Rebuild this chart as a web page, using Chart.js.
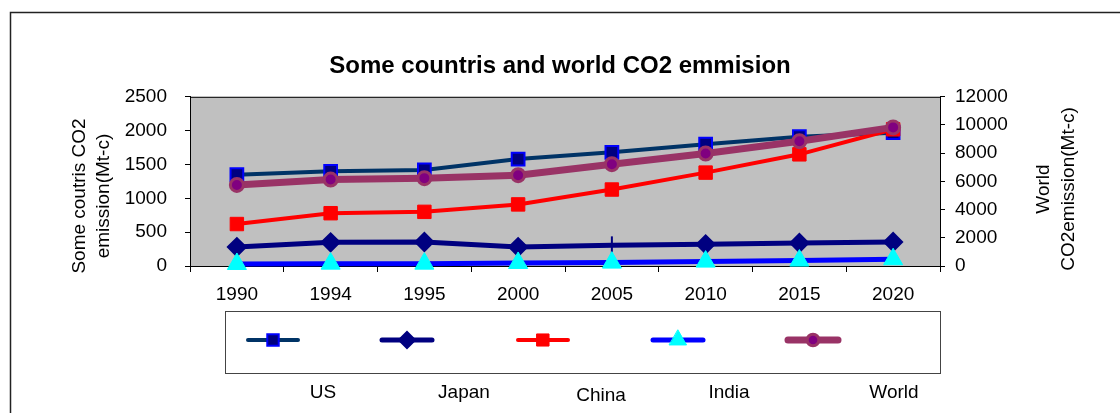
<!DOCTYPE html>
<html>
<head>
<meta charset="utf-8">
<title>Some countris and world CO2 emmision</title>
<script src="https://cdn.jsdelivr.net/npm/chart.js@4.4.0/dist/chart.umd.min.js"></script>
<style>
  html, body { margin: 0; padding: 0; background: #fff; }
  #wrap { width: 1120px; height: 413px; }
</style>
</head>
<body>
<div id="wrap"><canvas id="co2Chart" width="1120" height="413"></canvas></div>
<script>
// --- data (Mt-c) ---
const years = ['1990', '1994', '1995', '2000', '2005', '2010', '2015', '2020'];
const usValues = [1350, 1400, 1420, 1580, 1680, 1800, 1910, 1970];
const japanValues = [280, 350, 355, 280, 305, 320, 340, 355];
const chinaValues = [620, 780, 800, 910, 1130, 1380, 1650, 2020];
const indiaValues = [30, 35, 35, 45, 50, 65, 80, 100];
const worldValues = [5750, 6130, 6230, 6440, 7220, 7980, 8850, 9830];
const seriesNames = ['US', 'Japan', 'China', 'India', 'World'];

const FONT = '"Liberation Sans", Arial, sans-serif';
Chart.defaults.font.family = FONT;
Chart.defaults.color = '#000';

// grey plot area, outer frame and plot border
const framePlugin = {
    id: 'frame',
    beforeDraw(chart) {
        const { ctx, chartArea: a } = chart;
        ctx.save();
        ctx.fillStyle = '#fff';
        ctx.fillRect(0, 0, chart.width, chart.height);
        ctx.fillStyle = '#c0c0c0';
        ctx.fillRect(a.left, a.top, a.right - a.left, a.bottom - a.top);
        ctx.strokeStyle = '#222';
        ctx.lineWidth = 1.5;
        ctx.beginPath();
        ctx.moveTo(10.5, chart.height);
        ctx.lineTo(10.5, 12.5);
        ctx.lineTo(chart.width, 12.5);
        ctx.stroke();
        ctx.restore();
    },
    beforeDatasetsDraw(chart) {
        const { ctx, chartArea: a } = chart;
        ctx.save();
        ctx.strokeStyle = '#000';
        ctx.lineWidth = 1;
        ctx.strokeRect(a.left + 0.5, a.top + 0.5, a.right - a.left, a.bottom - a.top);
        ctx.restore();
    }
};

// both axis titles read bottom-to-top, two lines each
const axisTitlePlugin = {
    id: 'axisTitles',
    afterDraw(chart) {
        const ctx = chart.ctx;
        const draw = (lines, xs, y) => {
            lines.forEach((t, i) => {
                ctx.save();
                ctx.translate(xs[i], y);
                ctx.rotate(-Math.PI / 2);
                ctx.fillText(t, 0, 0);
                ctx.restore();
            });
        };
        ctx.save();
        ctx.font = '19px ' + FONT;
        ctx.fillStyle = '#000';
        ctx.textAlign = 'center';
        ctx.textBaseline = 'middle';
        draw(['Some coutris CO2', 'emission(Mt-c)'], [80, 104], 196);
        draw(['World', 'CO2emission(Mt-c)'], [1044, 1069], 189);
        ctx.restore();
    }
};

// Excel-style legend: box with samples, names below the box
const legendX = [273, 407, 543, 678, 813];
const legendLabelX = [323, 464, 601, 729, 894];
const legendLabelY = [393, 393, 396, 393, 393];
const legendPlugin = {
    id: 'excelLegend',
    afterDraw(chart) {
        const ctx = chart.ctx;
        ctx.save();
        ctx.strokeStyle = '#444';
        ctx.lineWidth = 1;
        ctx.strokeRect(225.5, 311.5, 715, 62);
        chart.data.datasets.forEach((ds, i) => {
            const cx = legendX[i], cy = 340;
            ctx.strokeStyle = ds.borderColor;
            ctx.lineWidth = ds.borderWidth;
            ctx.lineCap = 'round';
            ctx.beginPath();
            ctx.moveTo(cx - 25, cy);
            ctx.lineTo(cx + 25, cy);
            ctx.stroke();
            const style = Array.isArray(ds.pointStyle) ? ds.pointStyle[0] : ds.pointStyle;
            ctx.fillStyle = ds.pointBackgroundColor;
            ctx.strokeStyle = ds.pointBorderColor;
            ctx.lineWidth = ds.pointBorderWidth;
            Chart.helpers.drawPoint(ctx, {
                pointStyle: style, rotation: 0,
                radius: ds.pointRadius * 0.9, borderWidth: ds.pointBorderWidth
            }, cx, cy);
            ctx.fillStyle = '#000';
            ctx.font = '19px ' + FONT;
            ctx.textAlign = 'center';
            ctx.textBaseline = 'middle';
            ctx.fillText(seriesNames[i], legendLabelX[i], legendLabelY[i]);
        });
        ctx.restore();
    }
};

// Japan 2005 shows a vertical bar instead of a diamond
const japanStyles = years.map((y) => (y === '2005' ? 'line' : 'rectRot'));
const japanRotation = years.map((y) => (y === '2005' ? 90 : 0));

new Chart(document.getElementById('co2Chart'), {
    type: 'line',
    data: {
        labels: years,
        datasets: [
            {
                label: seriesNames[0], data: usValues, yAxisID: 'y', order: 5,
                borderColor: '#003366', borderWidth: 4,
                pointStyle: 'rect', pointRadius: 9,
                pointBackgroundColor: '#000080', pointBorderColor: '#0000ff', pointBorderWidth: 2
            },
            {
                label: seriesNames[1], data: japanValues, yAxisID: 'y', order: 4,
                borderColor: '#000080', borderWidth: 5,
                pointStyle: japanStyles, pointRotation: japanRotation, pointRadius: 9,
                pointBackgroundColor: '#000080', pointBorderColor: '#000080', pointBorderWidth: 2
            },
            {
                label: seriesNames[2], data: chinaValues, yAxisID: 'y', order: 3,
                borderColor: '#ff0000', borderWidth: 4,
                pointStyle: 'rect', pointRadius: 9.5,
                pointBackgroundColor: '#ff0000', pointBorderColor: '#ff0000', pointBorderWidth: 1
            },
            {
                label: seriesNames[3], data: indiaValues, yAxisID: 'y', order: 2,
                borderColor: '#0000ff', borderWidth: 5,
                pointStyle: 'triangle', pointRadius: 11,
                pointBackgroundColor: '#00ffff', pointBorderColor: '#00ffff', pointBorderWidth: 1
            },
            {
                label: seriesNames[4], data: worldValues, yAxisID: 'y2', order: 1,
                borderColor: '#993366', borderWidth: 7,
                pointStyle: 'circle', pointRadius: 6.5,
                pointBackgroundColor: '#800080', pointBorderColor: '#993366', pointBorderWidth: 3
            }
        ].map((ds) => Object.assign(ds, { tension: 0, fill: false, clip: false, pointHoverRadius: ds.pointRadius }))
    },
    options: {
        responsive: false,
        animation: false,
        layout: { padding: 0 },
        plugins: {
            legend: { display: false },
            tooltip: { enabled: false },
            title: {
                display: true,
                text: 'Some countris and world CO2 emmision',
                color: '#000',
                font: { size: 24, weight: 'bold', family: FONT },
                padding: { top: 52, bottom: 16 }
            }
        },
        scales: {
            x: {
                offset: true,
                grid: { display: true, drawOnChartArea: false, tickLength: 6, color: '#000', offset: true },
                border: { color: '#000' },
                ticks: { font: { size: 19 }, padding: 11, maxRotation: 0 },
                afterFit: (s) => { s.height = 147; }
            },
            y: {
                position: 'left', min: 0, max: 2500,
                grid: { drawOnChartArea: false, tickLength: 5, color: '#000' },
                border: { color: '#000' },
                ticks: { stepSize: 500, font: { size: 19 }, padding: 18, format: { useGrouping: false } },
                afterFit: (s) => { s.width = 190; }
            },
            y2: {
                position: 'right', min: 0, max: 12000,
                grid: { drawOnChartArea: false, tickLength: 5, color: '#000' },
                border: { color: '#000' },
                ticks: { stepSize: 2000, font: { size: 19 }, padding: 10, format: { useGrouping: false } },
                afterFit: (s) => { s.width = 180; }
            }
        }
    },
    plugins: [framePlugin, axisTitlePlugin, legendPlugin]
});
</script>
</body>
</html>
